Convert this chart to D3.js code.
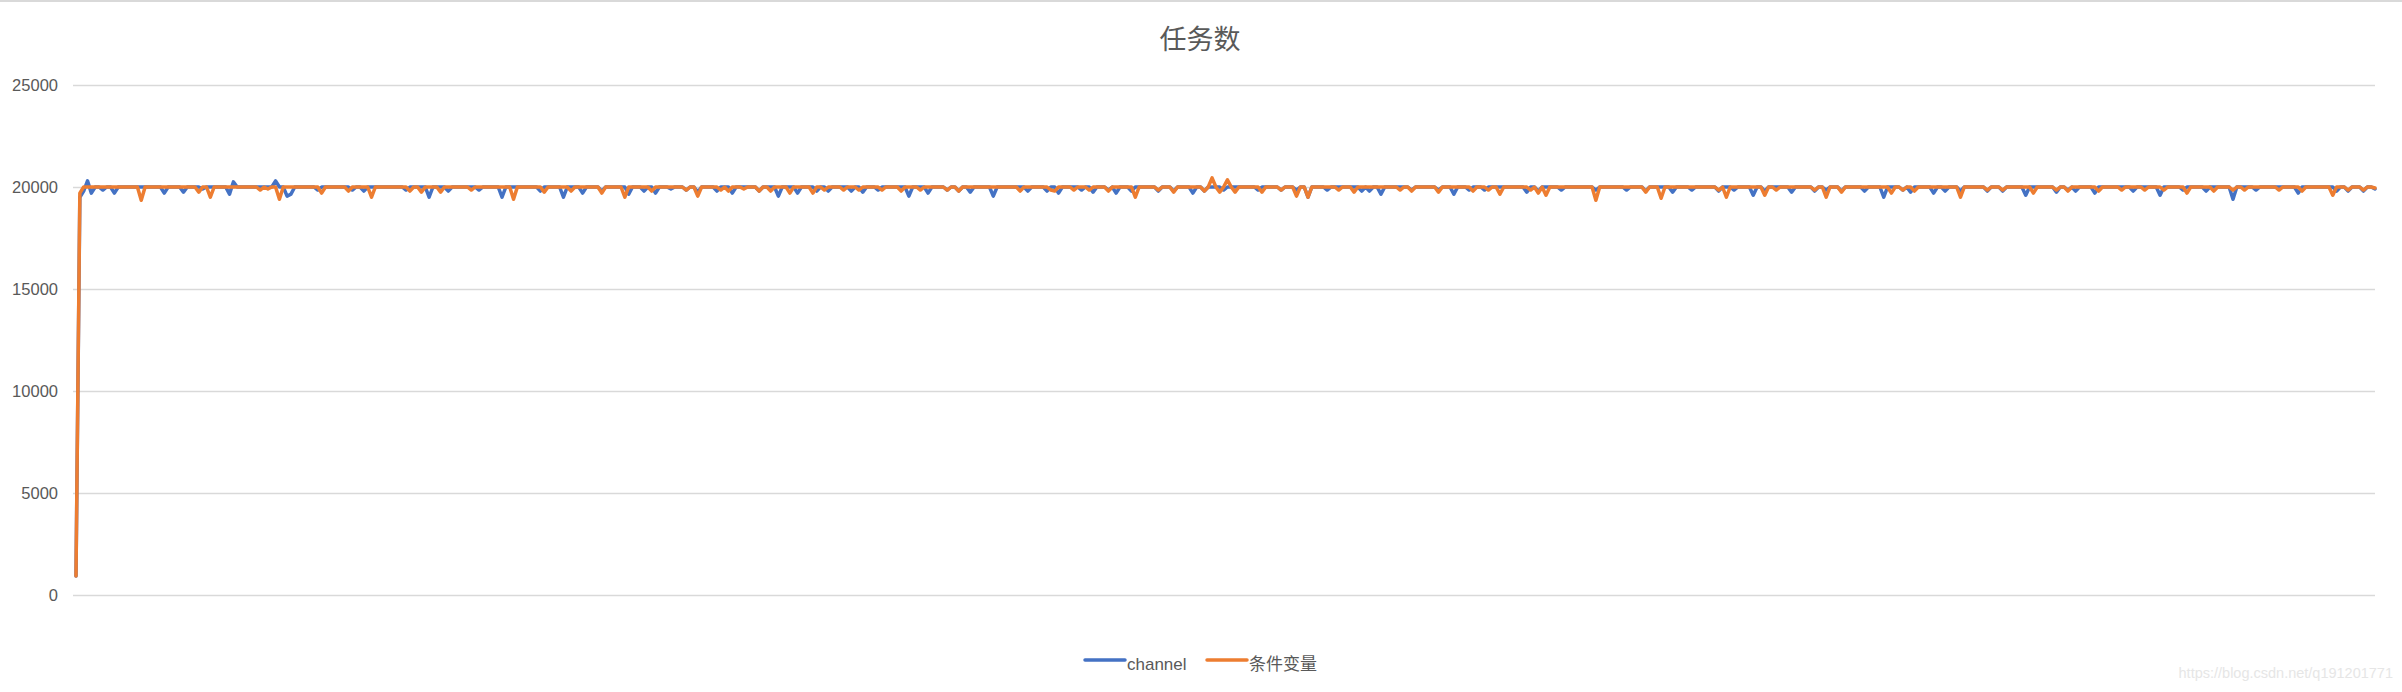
<!DOCTYPE html>

<head>
    <meta charset="utf-8">
    <script src="https://d3js.org/d3.v7.min.js"></script>
    <style>
        body { margin: 0; background: #fff; }
        text { font-family: "Liberation Sans", Arial, "Noto Sans CJK SC", sans-serif; }
    </style>
</head>

<body>
    <div id="chart"></div>
    <script>
        var chartTitle = "任务数"
        var seriesNames = ["channel", "条件变量"]
        var seriesColors = ["#4472C4", "#ED7D31"]
        var yTicks = [0, 5000, 10000, 15000, 20000, 25000]

        // 600 samples per series (mostly flat at 20000)
        var channelValues = [
            930,19500,19800,20300,19700,20000,20000,19850,20000,20000,19700,20000,20000,20000,20000,20000,20000,20000,20000,20000,
            20000,20000,20000,19700,20000,20000,20000,20000,19750,20000,20000,20000,20000,19900,20000,20000,20000,20000,20000,20000,
            19650,20250,20000,20000,20000,20000,20000,20000,20000,20000,20000,20000,20300,20000,20000,19550,19650,20000,20000,20000,
            20000,20000,20000,19850,20000,20000,20000,20000,20000,20000,20000,20000,19850,20000,20000,19800,20000,20000,20000,20000,
            20000,20000,20000,20000,20000,20000,19850,20000,20000,20000,20000,20000,19500,20000,20000,20000,20000,19800,20000,20000,
            20000,20000,20000,20000,20000,19850,20000,20000,20000,20000,20000,19500,20000,20000,20000,20000,20000,20000,20000,20000,
            20000,19800,20000,20000,20000,20000,20000,19500,20000,20000,20000,20000,19700,20000,20000,20000,20000,19800,20000,20000,
            20000,20000,20000,20000,19650,20000,20000,20000,19800,20000,20000,19700,20000,20000,20000,19900,20000,20000,20000,19850,
            20000,20000,19750,20000,20000,20000,20000,19800,20000,20000,20000,19700,20000,20000,20000,20000,20000,20000,19800,20000,
            20000,20000,20000,19550,20000,20000,20000,20000,19700,20000,20000,20000,20000,19800,20000,20000,19800,20000,20000,20000,
            20000,20000,19800,20000,20000,19750,20000,20000,20000,19850,20000,20000,20000,20000,20000,20000,20000,19550,20000,20000,
            20000,20000,19700,20000,20000,20000,20000,19850,20000,20000,19800,20000,20000,19750,20000,20000,20000,20000,20000,19550,
            20000,20000,20000,20000,20000,20000,20000,20000,19800,20000,20000,20000,20000,19800,20000,20000,19700,20000,20000,20000,
            20000,20000,19850,20000,20000,19750,20000,20000,20000,19850,20000,19700,20000,20000,20000,19800,20000,20000,20000,20000,
            20000,20000,19800,20000,20000,20000,19800,20000,20000,20000,20000,19700,20000,20000,19800,20000,20000,20000,20000,19850,
            20000,20000,20000,20000,20000,20000,20000,20000,19850,20000,20000,20000,20000,20000,19850,20000,20000,20000,19850,20000,
            20000,19500,20000,20000,20000,20000,19850,20000,20000,20000,20000,20000,20000,20000,20000,19800,20000,19800,20000,20000,
            19650,20000,20000,20000,20000,20000,20000,20000,19850,20000,20000,20000,20000,20000,20000,19850,20000,20000,20000,19650,
            20000,20000,20000,19850,20000,20000,20000,19850,20000,20000,20000,20000,20000,20000,20000,20000,20000,20000,19750,20000,
            20000,19800,20000,20000,20000,20000,20000,19850,20000,20000,20000,20000,20000,20000,20000,20000,19850,20000,20000,20000,
            20000,20000,20000,20000,19850,20000,20000,20000,20000,19800,20000,20000,20000,20000,20000,20000,19750,20000,20000,20000,
            20000,19850,20000,20000,20000,20000,20000,20000,19800,20000,20000,20000,19850,20000,20000,20000,20000,19600,20000,20000,
            19800,20000,20000,20000,20000,20000,20000,19750,20000,20000,20000,20000,20000,19800,20000,20000,19850,20000,20000,20000,
            19800,20000,20000,20000,20000,20000,19800,20000,20000,20000,20000,19500,20000,20000,20000,20000,19850,20000,19750,20000,
            20000,20000,20000,20000,19700,20000,20000,19800,20000,20000,20000,19800,20000,20000,20000,20000,20000,20000,19800,20000,
            20000,20000,19800,20000,20000,20000,20000,20000,19600,20000,20000,20000,20000,20000,20000,20000,19750,20000,20000,19850,
            20000,19800,20000,20000,20000,20000,19700,20000,20000,20000,20000,20000,20000,20000,20000,20000,19800,20000,20000,20000,
            20000,20000,20000,19600,20000,20000,20000,20000,20000,19850,20000,20000,20000,20000,20000,19800,20000,20000,20000,20000,
            20000,20000,19400,20000,20000,20000,20000,20000,19850,20000,20000,20000,20000,20000,20000,20000,20000,20000,20000,19700,
            20000,20000,20000,20000,20000,20000,20000,20000,20000,19800,20000,20000,19800,20000,20000,20000,19800,20000,20000,19900
        ]

        var condVarValues = [
            930,19700,20000,20000,20000,20000,20000,20000,20000,20000,20000,20000,20000,20000,20000,20000,20000,19350,20000,20000,
            20000,20000,20000,20000,20000,20000,20000,20000,20000,20000,20000,20000,19750,20000,20000,19500,20000,20000,20000,20000,
            20000,20000,20000,20000,20000,20000,20000,20000,19850,20000,19900,20000,20000,19400,20000,20000,20000,20000,20000,20000,
            20000,20000,20000,20000,19700,20000,20000,20000,20000,20000,20000,19800,20000,20000,20000,20000,20000,19500,20000,20000,
            20000,20000,20000,20000,20000,20000,20000,19800,20000,20000,19750,20000,20000,20000,20000,19750,20000,20000,20000,20000,
            20000,20000,20000,19850,20000,20000,20000,20000,20000,20000,20000,20000,20000,20000,19400,20000,20000,20000,20000,20000,
            20000,20000,19750,20000,20000,20000,20000,20000,20000,19800,20000,20000,20000,20000,20000,20000,20000,19700,20000,20000,
            20000,20000,20000,19500,20000,20000,20000,20000,20000,20000,19800,20000,20000,20000,20000,20000,20000,20000,20000,19850,
            20000,20000,19550,20000,20000,20000,20000,20000,19850,20000,19800,20000,20000,20000,19900,20000,20000,20000,19800,20000,
            20000,19800,20000,20000,20000,20000,19700,20000,20000,20000,20000,20000,19700,20000,20000,19850,20000,20000,20000,20000,
            19850,20000,20000,20000,19850,20000,20000,20000,20000,20000,19850,20000,20000,20000,20000,19800,20000,20000,20000,20000,
            19850,20000,20000,20000,20000,20000,20000,19850,20000,20000,19800,20000,20000,20000,20000,20000,20000,20000,20000,20000,
            20000,20000,20000,20000,20000,20000,19800,20000,20000,20000,20000,20000,20000,20000,19850,19800,20000,20000,20000,20000,
            19850,20000,20000,20000,19850,20000,20000,20000,20000,19800,20000,20000,20000,20000,20000,20000,19500,20000,20000,20000,
            20000,20000,19850,20000,20000,20000,19750,20000,20000,20000,20000,20000,20000,20000,19800,20000,20450,20000,19750,20000,
            20350,20000,19750,20000,20000,20000,20000,20000,20000,19750,20000,20000,20000,20000,19850,20000,20000,20000,19550,20000,
            20000,19500,20000,20000,20000,20000,20000,20000,20000,19850,20000,20000,20000,19750,20000,20000,20000,20000,20000,20000,
            20000,20000,20000,20000,20000,19850,20000,20000,19800,20000,20000,20000,20000,20000,20000,19750,20000,20000,20000,20000,
            20000,20000,20000,20000,19800,20000,20000,20000,19850,20000,20000,19650,20000,20000,20000,20000,20000,20000,20000,19850,
            20000,19700,20000,19600,20000,20000,20000,20000,20000,20000,20000,20000,20000,20000,20000,20000,19350,20000,20000,20000,
            20000,20000,20000,20000,20000,20000,20000,20000,20000,19750,20000,20000,20000,19450,20000,20000,20000,20000,20000,20000,
            20000,20000,20000,20000,20000,20000,20000,20000,19850,20000,19500,20000,20000,20000,20000,20000,20000,20000,20000,20000,
            19600,20000,20000,19850,20000,20000,20000,20000,20000,20000,20000,20000,20000,19850,20000,20000,19500,20000,20000,20000,
            19750,20000,20000,20000,20000,20000,20000,20000,20000,20000,20000,20000,20000,19700,20000,20000,19850,20000,20000,19800,
            20000,20000,20000,20000,20000,20000,20000,20000,20000,20000,20000,19500,20000,20000,20000,20000,20000,20000,19850,20000,
            20000,20000,19850,20000,20000,20000,20000,20000,20000,20000,19700,20000,20000,20000,20000,20000,19850,20000,20000,19800,
            20000,20000,20000,20000,20000,20000,20000,19800,20000,20000,20000,20000,20000,19850,20000,20000,20000,20000,20000,19850,
            20000,20000,20000,20000,19850,20000,20000,20000,20000,20000,19700,20000,20000,20000,20000,20000,20000,19800,20000,20000,
            20000,20000,19850,20000,20000,19850,20000,20000,20000,20000,20000,20000,20000,20000,19850,20000,20000,20000,20000,20000,
            19800,20000,20000,20000,20000,20000,20000,20000,19600,20000,20000,20000,19850,20000,20000,20000,19850,20000,20000,19950
        ]

        var chart = function() {
            var canvasDim = { width: 2402, height: 692 }
            var plot = { left: 73, right: 2375, top: 85, bottom: 595, firstX: 76 }

            return {
                run: function() {
                    var svg = d3.select("#chart").append("svg")
                        .attr("width", canvasDim.width)
                        .attr("height", canvasDim.height)

                    // thin frame line at the very top
                    svg.append("line")
                        .attr("x1", 0).attr("x2", canvasDim.width)
                        .attr("y1", 1).attr("y2", 1)
                        .attr("stroke", "#d9d9d9")
                        .attr("stroke-width", 2)

                    var series = [channelValues, condVarValues]

                    var x = d3.scaleLinear()
                        .domain([0, channelValues.length - 1])
                        .range([plot.firstX, plot.right])

                    var y = d3.scaleLinear()
                        .domain([0, 25000])
                        .range([plot.bottom, plot.top])

                    // gridlines + labels
                    var yAxis = d3.axisLeft(y)
                        .tickValues(yTicks)
                        .tickSize(-(plot.right - plot.left))
                        .tickPadding(15)
                        .tickFormat(d3.format("d"))

                    var gy = svg.append("g")
                        .attr("transform", "translate(" + plot.left + ",0)")
                        .call(yAxis)
                    gy.select(".domain").remove()
                    gy.selectAll(".tick line")
                        .attr("stroke", "#d9d9d9")
                        .attr("stroke-width", 1.6)
                    gy.selectAll(".tick text")
                        .attr("fill", "#595959")
                        .attr("font-size", "16.5px")
                        .attr("font-family", "'Liberation Sans', Arial, sans-serif")

                    var line = d3.line()
                        .x(function(d, i) { return x(i) })
                        .y(function(d) { return y(d) })

                    svg.append("g").selectAll("path")
                        .data(series)
                        .enter().append("path")
                        .attr("d", line)
                        .attr("fill", "none")
                        .attr("stroke", function(d, i) { return seriesColors[i] })
                        .attr("stroke-width", 3.5)
                        .attr("stroke-linejoin", "round")
                        .attr("stroke-linecap", "round")

                    // title
                    svg.append("text")
                        .attr("x", 1200)
                        .attr("y", 49)
                        .attr("text-anchor", "middle")
                        .attr("fill", "#595959")
                        .attr("font-size", "27px")
                        .text(chartTitle)

                    // legend
                    var legendX = [1085, 1207]
                    var lg = svg.append("g").selectAll("g")
                        .data(seriesNames)
                        .enter().append("g")
                        .attr("transform", function(d, i) { return "translate(" + legendX[i] + ",660)" })
                    lg.append("line")
                        .attr("x1", 0).attr("x2", 40)
                        .attr("stroke", function(d, i) { return seriesColors[i] })
                        .attr("stroke-width", 3.5)
                        .attr("stroke-linecap", "round")
                    lg.append("text")
                        .attr("x", 42)
                        .attr("y", 10)
                        .attr("fill", "#595959")
                        .attr("font-size", "17px")
                        .text(function(d) { return d })

                    // watermark
                    svg.append("text")
                        .attr("x", 2393)
                        .attr("y", 678)
                        .attr("text-anchor", "end")
                        .attr("fill", "#e6e6e6")
                        .attr("font-size", "14.5px")
                        .text("https://blog.csdn.net/q191201771")
                }
            }
        }()
    </script>
    <script>
        chart.run()
    </script>
</body>

</html>
